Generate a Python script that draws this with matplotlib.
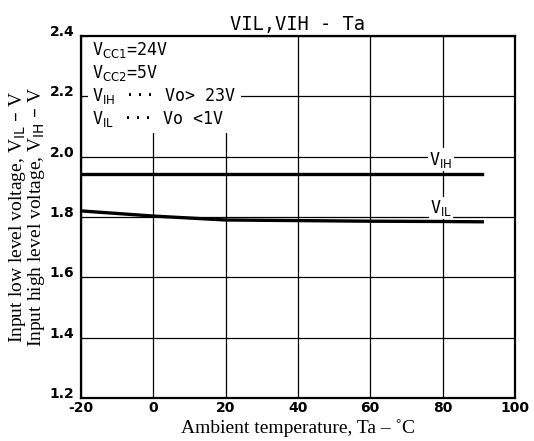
"""
VIL, VIH - Ta : tensions d'entrée en fonction de la température ambiante.
"""

import matplotlib
matplotlib.use("Agg")
import matplotlib.pyplot as plt

# Données
ta_vih = [-20, 0, 20, 40, 60, 80, 91]
vih = [1.942, 1.942, 1.942, 1.942, 1.942, 1.942, 1.942]

ta_vil = [-20, 0, 20, 40, 60, 80, 91]
vil = [1.820, 1.803, 1.790, 1.788, 1.786, 1.785, 1.784]

x_ticks = [-20, 0, 20, 40, 60, 80, 100]
y_ticks = [1.2, 1.4, 1.6, 1.8, 2.0, 2.2, 2.4]

fig = plt.figure(figsize=(5.34, 4.41), dpi=100)
ax = fig.add_axes([0.152, 0.097, 0.812, 0.822])

# Grille
for xt in x_ticks:
    ax.axvline(xt, color="black", lw=0.9, zorder=1)
for yt in y_ticks:
    ax.axhline(yt, color="black", lw=0.9, zorder=1)

# Courbes
ax.plot(ta_vih, vih, color="black", lw=2.4, zorder=3)
ax.plot(ta_vil, vil, color="black", lw=2.4, zorder=3)

ax.set_xlim(-20, 100)
ax.set_ylim(1.2, 2.4)
ax.set_xticks(x_ticks)
ax.set_yticks(y_ticks)
ax.set_xticklabels([str(v) for v in x_ticks], fontsize=10, fontweight="bold")
ax.set_yticklabels([f"{v:.1f}" for v in y_ticks], fontsize=10, fontweight="bold",
                   va="baseline")
ax.tick_params(axis="x", length=0, pad=2)
ax.tick_params(axis="y", length=0, pad=5)
for sp in ax.spines.values():
    sp.set_linewidth(1.6)
    sp.set_zorder(6)

mono = "DejaVu Sans Mono"
white = dict(facecolor="white", edgecolor="none", pad=1.0)

# Conditions (cache la grille derrière)
ax.text(-17, 2.385,
        "V$_{\\mathrm{CC1}}$=24V\n"
        "V$_{\\mathrm{CC2}}$=5V\n"
        "V$_{\\mathrm{IH}}$ ··· Vo> 23V\n"
        "V$_{\\mathrm{IL}}$ ··· Vo <1V",
        family=mono, fontsize=12, va="top", ha="left", linespacing=1.2,
        bbox=dict(facecolor="white", edgecolor="none", pad=3), zorder=4)

ax.text(79.6, 1.99, "V$_{\\mathrm{IH}}$", family=mono, fontsize=12,
        ha="center", va="center", bbox=white, zorder=4)
ax.text(79.6, 1.83, "V$_{\\mathrm{IL}}$", family=mono, fontsize=12,
        ha="center", va="center", bbox=white, zorder=4)

ax.set_title("VIL,VIH - Ta", family=mono, fontsize=13.5, pad=4)
ax.set_xlabel("Ambient temperature, Ta – ˚C", family="Liberation Serif",
              fontsize=14, labelpad=3)
ax.set_ylabel("Input low level voltage, V$_{\\mathrm{IL}}$ – V\n"
              "Input high level voltage, V$_{\\mathrm{IH}}$ – V",
              family="Liberation Serif", fontsize=14, labelpad=2,
              linespacing=0.85)

fig.savefig("out.png", dpi=100)
